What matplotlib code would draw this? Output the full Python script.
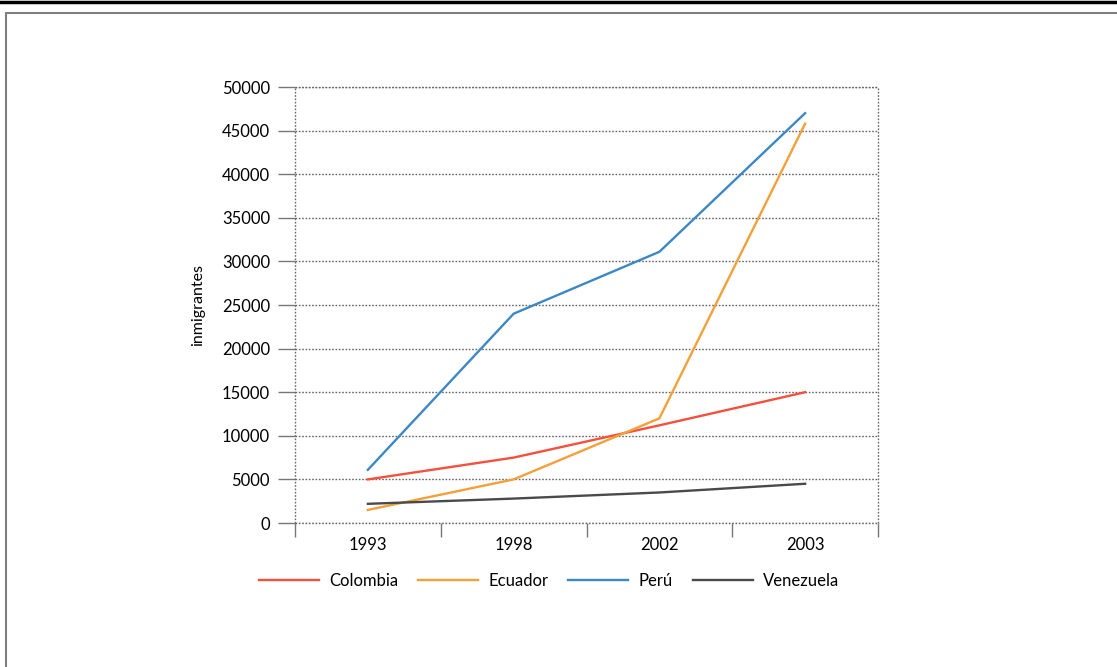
import matplotlib
matplotlib.use("Agg")
import matplotlib.pyplot as plt
from matplotlib.lines import Line2D
from matplotlib.patches import Rectangle

plt.rcParams['font.family'] = ['Lato', 'DejaVu Sans']

years = ["1993", "1998", "2002", "2003"]
colombia = [5000, 7500, 11200, 15000]
ecuador = [1500, 5000, 12000, 45800]
peru = [6100, 24000, 31100, 47000]
venezuela = [2200, 2800, 3500, 4500]

series = [
    ("Colombia", colombia, "#f5503c"),
    ("Ecuador", ecuador, "#f3a03a"),
    ("Perú", peru, "#3c88c4"),
    ("Venezuela", venezuela, "#4a4a4a"),
]

fig = plt.figure(figsize=(11.17, 6.67), dpi=100)
ax = fig.add_axes([295 / 1117, 1 - 523 / 667, (878 - 295) / 1117, (523 - 87) / 667])

x = list(range(len(years)))
for name, vals, col in series:
    ax.plot(x, vals, color=col, lw=1.7, label=name)

ax.set_xlim(-0.5, 3.5)
ax.set_ylim(0, 50000)
ax.set_yticks(range(0, 50001, 5000))
ax.set_xticks(x)
ax.set_xticklabels(years)
ax.set_xticks([-0.5, 0.5, 1.5, 2.5, 3.5], minor=True)
ax.tick_params(axis="x", which="major", length=0, pad=10, labelsize=12)
ax.tick_params(axis="x", which="minor", length=10, color="#777777", width=1)
ax.tick_params(axis="y", length=12, color="#777777", width=1, labelsize=12, pad=6)

dots = (0, (1.2, 1.2))
for s in ax.spines.values():
    s.set_visible(False)
ax.grid(axis="y", color="#666666", linestyle=dots, lw=1)
ax.axhline(0, color="#666666", linestyle=dots, lw=1, clip_on=False, zorder=0.5)
ax.axhline(50000, color="#666666", linestyle=dots, lw=1, clip_on=False, zorder=0.5)
ax.axvline(-0.5, color="#666666", linestyle=dots, lw=1, clip_on=False)
ax.axvline(3.5, color="#666666", linestyle=dots, lw=1, clip_on=False)
ax.set_axisbelow(True)

ax.set_ylabel("inmigrantes", fontsize=11.5, labelpad=12)

fig.legend(loc="center", bbox_to_anchor=(549 / 1117, 1 - 581 / 667), ncol=4,
           frameon=False, fontsize=12, handlelength=3.6, handletextpad=0.6,
           columnspacing=1.2)

# page frame
fig.add_artist(Line2D([0, 1], [1 - 1.5 / 667, 1 - 1.5 / 667], color="black", lw=2.5))
fig.add_artist(Rectangle((5.5 / 1117, -0.1), 1.2, 1.1 - 13.5 / 667, fill=False,
                         edgecolor="#808080", lw=1.5, transform=fig.transFigure))

fig.savefig("out.png", dpi=100)
